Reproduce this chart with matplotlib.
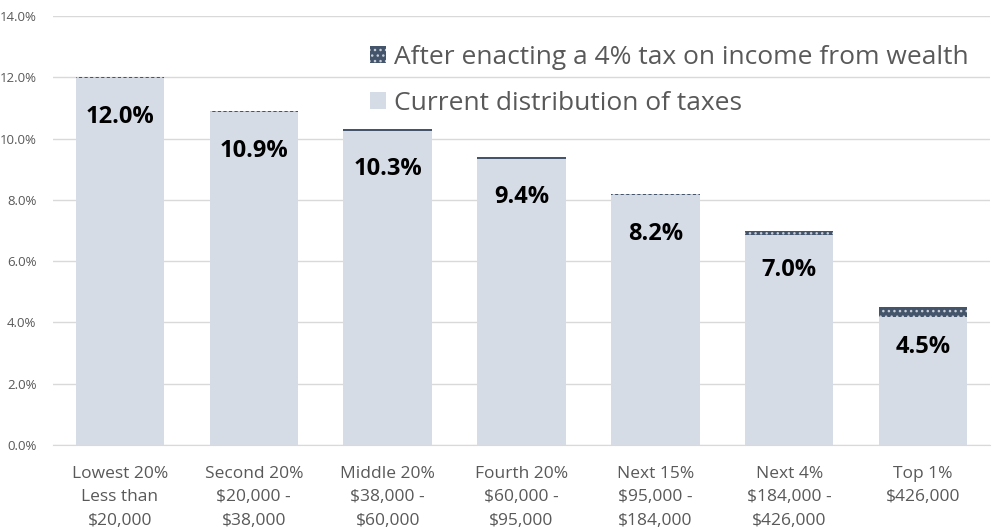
import matplotlib.pyplot as plt
import numpy as np

plt.rcParams['font.family'] = ['Open Sans', 'DejaVu Sans']
plt.rcParams['hatch.linewidth'] = 1.0

groups = ['Lowest 20%\nLess than\n$20,000', 'Second 20%\n$20,000 -\n$38,000',
          'Middle 20%\n$38,000 -\n$60,000', 'Fourth 20%\n$60,000 -\n$95,000',
          'Next 15%\n$95,000 -\n$184,000', 'Next 4%\n$184,000 -\n$426,000',
          'Top 1%\n$426,000']
# total effective tax rate after the wealth tax (the printed labels)
after_tax = [12.0, 10.9, 10.3, 9.4, 8.2, 7.0, 4.5]
# extra share added by the 4% tax on income from wealth
wealth_tax = [0.03, 0.04, 0.05, 0.06, 0.05, 0.16, 0.31]
current = [a - w for a, w in zip(after_tax, wealth_tax)]

fig = plt.figure(figsize=(9.92, 5.32), dpi=100)
ax = fig.add_axes([53 / 992, 1 - 445 / 532, 937 / 992, 429 / 532])

x = np.arange(len(groups))
b1 = ax.bar(x, current, width=0.66, color='#D6DCE5', zorder=2,
            label='Current distribution of taxes')
b2 = ax.bar(x, wealth_tax, bottom=current, width=0.66, color='#44546A',
            edgecolor='#C8CED8', linewidth=0, hatch='...', zorder=2,
            label='After enacting a 4% tax on income from wealth')

for xi, tot in zip(x, after_tax):
    ax.annotate('{:.1f}%'.format(tot), (xi, tot), xytext=(0, -40),
                textcoords='offset pixels', ha='center', va='center',
                fontsize=17, fontweight='bold', color='black', zorder=3)

ax.set_xlim(-0.5, len(groups) - 0.5)
ax.set_ylim(0, 14)
ax.set_yticks(np.arange(0, 14.1, 2))
ax.set_yticklabels(['{:.1f}%'.format(v) for v in np.arange(0, 14.1, 2)])
ax.set_xticks(x)
ax.set_xticklabels(groups, fontsize=12.5, color='#595959', linespacing=1.62)
ax.tick_params(axis='y', labelsize=9.5, colors='#595959', length=0, pad=12)
ax.tick_params(axis='x', length=0, pad=15)
ax.grid(axis='y', color='#D9D9D9', linewidth=1, zorder=0)
for s in ['top', 'right', 'left']:
    ax.spines[s].set_visible(False)
ax.spines['bottom'].set_color('#D9D9D9')

ax.legend([b2, b1], [b2.get_label(), b1.get_label()],
          loc='upper left', bbox_to_anchor=(370 / 992, 1 - 45 / 532),
          bbox_transform=fig.transFigure, frameon=False, fontsize=19,
          labelcolor='#595959', handlelength=0.6, handleheight=0.6,
          handletextpad=0.3, labelspacing=0.8, borderaxespad=0,
          borderpad=0)

fig.savefig('out.png', dpi=100)
